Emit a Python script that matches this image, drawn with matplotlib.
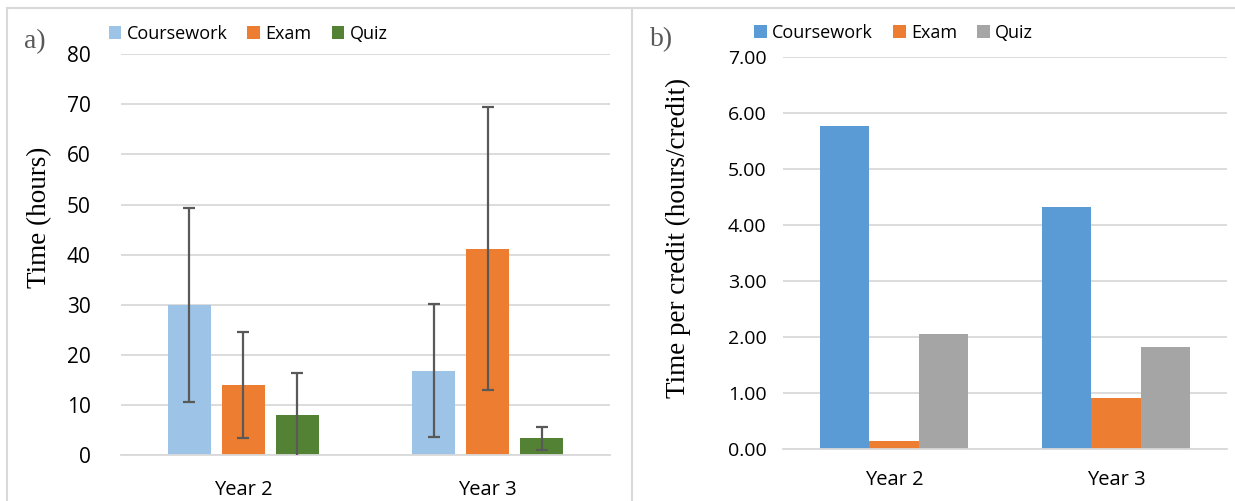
import numpy as np
import matplotlib
matplotlib.use("Agg")
import matplotlib.pyplot as plt
from matplotlib.lines import Line2D

years = ['Year 2', 'Year 3']
series = ['Coursework', 'Exam', 'Quiz']

# a) total time (hours) with error bars
hours = {'Coursework': [30.0, 16.8], 'Exam': [14.0, 41.2], 'Quiz': [7.9, 3.3]}
hours_err = {'Coursework': [19.4, 13.3], 'Exam': [10.6, 28.3], 'Quiz': [8.4, 2.35]}

# b) time per credit (hours/credit)
per_credit = {'Coursework': [5.76, 4.31], 'Exam': [0.15, 0.91], 'Quiz': [2.05, 1.82]}

cols_a = {'Coursework': '#9DC3E6', 'Exam': '#ED7D31', 'Quiz': '#548235'}
cols_b = {'Coursework': '#5B9BD5', 'Exam': '#ED7D31', 'Quiz': '#A5A5A5'}

sans = 'Open Sans'
serif = 'Liberation Serif'
grid_col = '#d9d9d9'

fig = plt.figure(figsize=(12.35, 5.01), dpi=100)

def style_axes(ax):
    for s in ['top', 'right', 'left']:
        ax.spines[s].set_visible(False)
    ax.spines['bottom'].set_color(grid_col)
    ax.spines['bottom'].set_linewidth(1.3)
    ax.yaxis.grid(True, color=grid_col, linewidth=1.3)
    ax.set_axisbelow(True)
    ax.tick_params(length=0)
    for lab in ax.get_xticklabels() + ax.get_yticklabels():
        lab.set_fontfamily(sans)
        lab.set_color('#000000')

x = np.arange(len(years))

# panel a
ax0 = fig.add_axes([0.098, 0.0918, 0.396, 0.800])
w0, step0 = 0.176, 0.221
for i, s in enumerate(series):
    ax0.bar(x + (i - 1) * step0, hours[s], w0, color=cols_a[s], label=s, zorder=2)
    ax0.errorbar(x + (i - 1) * step0, hours[s], yerr=hours_err[s], fmt='none',
                 ecolor='#595959', elinewidth=1.6, capsize=4.5, capthick=1.6, zorder=3)
ax0.set_xlim(-0.5, 1.5)
ax0.set_ylim(0, 80)
ax0.set_yticks(np.arange(0, 81, 10))
ax0.set_xticks(x)
ax0.set_xticklabels(years)
ax0.tick_params(axis='y', labelsize=15, pad=22)
ax0.tick_params(axis='x', labelsize=14.5, pad=18)
style_axes(ax0)
ax0.set_ylabel('Time (hours)', fontfamily=serif, fontsize=19.5)
ax0.yaxis.label.set(rotation_mode='default', va='center', ha='center')
ax0.yaxis.set_label_coords(-0.1656, 0.5935)
ax0.legend(loc='lower left', bbox_to_anchor=(-0.04, 1.01), ncol=3, frameon=False,
           prop={'family': sans, 'size': 13}, handlelength=0.7, handleheight=0.7,
           handletextpad=0.3, columnspacing=1.1, borderaxespad=0)

# panel b
ax1 = fig.add_axes([0.634, 0.1038, 0.3595, 0.783])
w1 = 0.222
for i, s in enumerate(series):
    ax1.bar(x + (i - 1) * w1, per_credit[s], w1, color=cols_b[s], label=s, zorder=2)
ax1.set_xlim(-0.5, 1.5)
ax1.set_ylim(0, 7)
ax1.set_yticks(np.arange(0, 7.01, 1))
ax1.set_yticklabels(['%.2f' % v for v in np.arange(0, 7.01, 1)])
ax1.set_xticks(x)
ax1.set_xticklabels(years)
ax1.tick_params(axis='y', labelsize=14, pad=12)
ax1.tick_params(axis='x', labelsize=14.5, pad=15)
style_axes(ax1)
ax1.set_ylabel('Time per credit (hours/credit)', fontfamily=serif, fontsize=19.5)
ax1.yaxis.label.set(rotation_mode='default', va='center', ha='center')
ax1.yaxis.set_label_coords(-0.2365, 0.538)
ax1.legend(loc='lower left', bbox_to_anchor=(-0.081, 1.02), ncol=3, frameon=False,
           prop={'family': sans, 'size': 13}, handlelength=0.7, handleheight=0.7,
           handletextpad=0.3, columnspacing=1.1, borderaxespad=0)

# panel letters
fig.text(35 / 1235, 1 - 42 / 501, 'a)', fontfamily=serif, fontsize=20, color='#595959',
         ha='center', va='center')
fig.text(662 / 1235, 1 - 40 / 501, 'b)', fontfamily=serif, fontsize=20, color='#595959',
         ha='center', va='center')

# panel frames
fc = '#d9d9d9'
fig.add_artist(Line2D([7 / 1235, 1], [1 - 8 / 501, 1 - 8 / 501], color=fc, lw=1.5))
fig.add_artist(Line2D([7 / 1235, 7 / 1235], [0, 1 - 8 / 501], color=fc, lw=1.5))
fig.add_artist(Line2D([632 / 1235, 632 / 1235], [0, 1 - 8 / 501], color=fc, lw=1.5))

fig.savefig('out.png', dpi=100)
